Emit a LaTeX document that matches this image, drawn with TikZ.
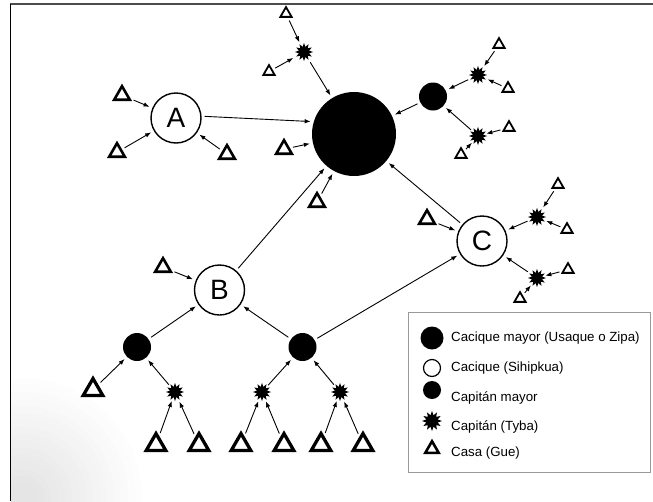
\documentclass[tikz,border=0pt]{standalone}
\usepackage{fontspec}
\setmainfont{Liberation Sans}
\usetikzlibrary{shapes.geometric,arrows.meta}
\begin{document}
\begin{tikzpicture}[x=1pt,y=-1pt,
  mayor/.style={circle,fill=black,inner sep=0pt,minimum size=84pt},
  cacique/.style={circle,draw=black,line width=1.4pt,fill=white,inner sep=0pt,
    minimum size=50pt,font=\fontsize{28}{28}\selectfont},
  capmayor/.style={circle,fill=black,inner sep=0pt,minimum size=28pt},
  tyba/.style={star,star points=12,star point ratio=1.7,fill=black,inner sep=0pt,minimum size=18pt},
  casa/.style={regular polygon,regular polygon sides=3,draw=black,miter limit=10,inner sep=0pt},
  casaS/.style={casa,line width=1.8pt,minimum size=13pt,yshift=-1.6pt},
  casaM/.style={casa,line width=2.6pt,minimum size=18pt,yshift=-2.2pt},
  casaL/.style={casa,line width=3.3pt,minimum size=22.5pt,yshift=-2.8pt},
  link/.style={-{Latex[length=6pt,width=4.5pt]},line width=0.9pt,shorten >=3pt,shorten <=3pt},
  legtext/.style={anchor=west,inner sep=0pt,font=\fontsize{13.3}{13.3}\selectfont},
]
\useasboundingbox (0,0) rectangle (653,501);

% worn paper in the lower left corner: rings that darken towards the corner
\begin{scope}
  \clip (11,340) rectangle (200,501);
  \foreach \i in {0,...,15}{
    \pgfmathsetmacro{\ringshade}{0.6+0.65*\i}
    \fill[black!\ringshade] (22,498) circle[radius=120-7*\i];
  }
\end{scope}

% page frame
\draw[black!70,line width=1.5pt] (10,4) -- (653,4);
\draw[black,line width=1.2pt] (10.5,4) -- (10.5,501);

% chiefs
\node[mayor] (big) at (354,134) {};
\node[cacique] (A) at (176,118) {A};
\node[cacique] (B) at (219.5,290) {B};
\node[cacique] (C) at (482,241) {C};

% capitanes mayores
\node[capmayor] (cmR) at (433,96.5) {};
\node[capmayor] (cmL) at (137,347) {};
\node[capmayor] (cmM) at (302.5,347) {};

% capitanes
\node[tyba] (sT) at (304,52) {};
\node[tyba] (sR1) at (478,75) {};
\node[tyba] (sR2) at (478,136) {};
\node[tyba] (sC1) at (537,217) {};
\node[tyba] (sC2) at (537,278) {};
\node[tyba] (sB1) at (175,392) {};
\node[tyba] (sB2) at (262,392) {};
\node[tyba] (sB3) at (340,392) {};

% casas
\node[casaS] (tT1) at (286,12) {};
\node[casaS] (tT2) at (269,70) {};
\node[casaM] (tG1) at (284,147) {};
\node[casaM] (tG2) at (317,200) {};
\node[casaM] (tA1) at (122,93) {};
\node[casaM] (tA2) at (117,150) {};
\node[casaM] (tA3) at (227,152) {};
\node[casaS] (tR1) at (499,43) {};
\node[casaS] (tR2) at (508,87) {};
\node[casaS] (tR3) at (509,126) {};
\node[casaS] (tR4) at (461,153) {};
\node[casaM] (tC) at (427,217) {};
\node[casaS] (tC1) at (558,183) {};
\node[casaS] (tC2) at (567,228) {};
\node[casaS] (tC3) at (568,268) {};
\node[casaS] (tC4) at (520,297) {};
\node[casaM] (tB) at (163,265) {};
\node[casaL] (tL) at (93,387) {};
\node[casaL] (b1) at (156,442) {};
\node[casaL] (b2) at (199,442) {};
\node[casaL] (b3) at (241,442) {};
\node[casaL] (b4) at (284,442) {};
\node[casaL] (b5) at (321,442) {};
\node[casaL] (b6) at (363,442) {};

% connections towards the cacique mayor
\draw[link] (tT1) -- (sT);
\draw[link] (tT2) -- (sT);
\draw[link] (sT) -- (big);
\draw[link] (tG1) -- (big);
\draw[link] (tG2) -- (big);
\draw[link] (A.4) -- (big.163);
\draw[link] (B) -- (big);
\draw[link] (C) -- (big);
\draw[link] (cmR) -- (big);
\draw[link] (sR1) -- (cmR);
\draw[link] (sR2) -- (cmR);
\draw[link] (tR1) -- (sR1);
\draw[link] (tR2) -- (sR1);
\draw[link] (tR3) -- (sR2);
\draw[link] (tR4) -- (sR2);

% cacique A
\draw[link] (tA1) -- (A);
\draw[link] (tA2) -- (A);
\draw[link] (tA3) -- (A);

% cacique C
\draw[link] (tC) -- (C);
\draw[link] (sC1) -- (C);
\draw[link] (sC2) -- (C);
\draw[link] (tC1) -- (sC1);
\draw[link] (tC2) -- (sC1);
\draw[link] (tC3) -- (sC2);
\draw[link] (tC4) -- (sC2);
\draw[link] (cmM) -- (C);

% cacique B
\draw[link] (tB) -- (B);
\draw[link] (cmL) -- (B);
\draw[link] (cmM) -- (B);
\draw[link] (tL) -- (cmL);
\draw[link] (sB1) -- (cmL);
\draw[link] (sB2) -- (cmM);
\draw[link] (sB3) -- (cmM);
\draw[link] (b1) -- (sB1);
\draw[link] (b2) -- (sB1);
\draw[link] (b3) -- (sB2);
\draw[link] (b4) -- (sB2);
\draw[link] (b5) -- (sB3);
\draw[link] (b6) -- (sB3);

% legend
\node[draw=black!40,line width=0.7pt,minimum width=242pt,minimum height=160pt,inner sep=0pt] (legend) at (529,392) {};
\node[mayor,minimum size=23pt] (k1) at (432,338) {};
\node[circle,draw=black,line width=1.2pt,inner sep=0pt,minimum size=17pt] (k2) at (432,368) {};
\node[capmayor,minimum size=18pt] (k3) at (432,390) {};
\node[tyba,minimum size=20pt] (k4) at (432,421) {};
\node[casa,line width=2.6pt,minimum size=15.5pt,yshift=-2pt] (k5) at (432,447) {};
\node[legtext] (l1) at (451,338) {Cacique mayor (Usaque o Zipa)};
\node[legtext] (l2) at (451,368) {Cacique (Sihipkua)};
\node[legtext] (l3) at (451,398) {Capitán mayor};
\node[legtext] (l4) at (451,427) {Capitán (Tyba)};
\node[legtext] (l5) at (451,453) {Casa (Gue)};
\end{tikzpicture}
\end{document}
